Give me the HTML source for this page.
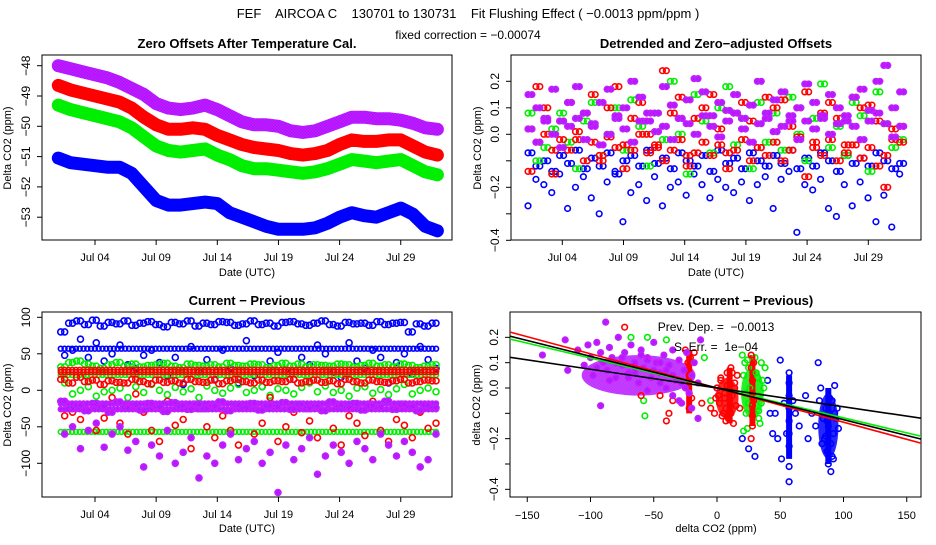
<!DOCTYPE html>
<html><head><meta charset="utf-8"><style>
body{margin:0;background:#fff}
svg text{font-family:"Liberation Sans",sans-serif;fill:#000;white-space:pre}
</style></head><body>
<svg id="c" width="936" height="540" xmlns="http://www.w3.org/2000/svg">
<defs>
<clipPath id="c1"><rect x="42" y="55" width="410" height="185"/></clipPath>
<clipPath id="c2"><rect x="511" y="55" width="410" height="185"/></clipPath>
<clipPath id="c3"><rect x="42" y="312" width="410" height="185"/></clipPath>
<clipPath id="c4"><rect x="510" y="312" width="411" height="185"/></clipPath>
<pattern id="hatch" width="3" height="3" patternUnits="userSpaceOnUse"><rect width="3" height="3" fill="#ff00ff"/><rect width="1.5" height="1.5" fill="#7030ff"/><rect x="1.5" y="1.5" width="1.5" height="1.5" fill="#7030ff"/></pattern>
</defs>
<text x="468" y="18" text-anchor="middle" font-size="13">FEF    AIRCOA C    130701 to 130731    Fit Flushing Effect ( −0.0013 ppm/ppm )</text>
<text x="468" y="39" text-anchor="middle" font-size="12">fixed correction = −0.00074</text>
<g id="g"></g>
</svg>
<script>
// ---------- data ----------
const days = ["Jul 04","Jul 09","Jul 14","Jul 19","Jul 24","Jul 29"];
const dayNums = [4,9,14,19,24,29];
// Panel 1 daily trend (day 1..32)
const p1Purple=[-48.0,-48.1,-48.2,-48.3,-48.4,-48.55,-48.75,-48.95,-49.25,-49.4,-49.45,-49.4,-49.3,-49.45,-49.65,-49.85,-49.95,-49.95,-50.0,-50.15,-50.2,-50.15,-50.0,-49.85,-49.7,-49.7,-49.75,-49.75,-49.8,-49.9,-50.05,-50.1];
const p1Red=[-48.65,-48.8,-48.9,-49.0,-49.1,-49.2,-49.4,-49.7,-49.95,-50.1,-50.1,-50.05,-50.1,-50.3,-50.45,-50.6,-50.7,-50.75,-50.8,-50.9,-50.95,-50.9,-50.8,-50.6,-50.45,-50.5,-50.5,-50.45,-50.45,-50.65,-50.85,-50.95];
const p1Green=[-49.3,-49.45,-49.55,-49.65,-49.75,-49.85,-50.05,-50.35,-50.65,-50.8,-50.85,-50.8,-50.75,-50.95,-51.1,-51.3,-51.4,-51.4,-51.45,-51.5,-51.55,-51.5,-51.4,-51.25,-51.1,-51.15,-51.2,-51.15,-51.1,-51.3,-51.5,-51.6];
const p1Blue=[-51.05,-51.2,-51.25,-51.3,-51.35,-51.35,-51.55,-52.0,-52.45,-52.6,-52.6,-52.55,-52.5,-52.55,-52.85,-53.0,-53.15,-53.3,-53.4,-53.4,-53.4,-53.35,-53.2,-53.0,-52.85,-52.95,-53.0,-52.85,-52.7,-52.9,-53.3,-53.45];
const p1Ticks=[-48,-49,-50,-51,-52,-53];
// Panel 2
const p2PurpleA=[0.15,0.1,0.06,0.17,0.05,0.12,0.18,0.08,0.03,0.12,0.17,0.06,0.1,0.2,0.14,0.05,0.08,0.18,0.11,0.06,0.13,0.21,0.16,0.07,0.12,0.09,0.15,0.06,0.11,0.2,0.08,0.13,0.16,0.05,0.1,0.19,0.12,0.07,0.15,0.1,0.05,0.14,0.17,0.09,0.2,0.26,0.1,0.16];
const p2PurpleB=[0.02,-0.03,0.05,0.0,-0.05,0.03,0.06,-0.02,0.04,-0.04,0.0,0.07,0.02,-0.03,0.05,0.08,0.01,0.03,-0.02,0.06,0.04,0.0,0.07,0.03,-0.01,0.05,0.08,0.02,-0.03,0.04,0.06,0.01,0.03,0.07,-0.02,0.05,0.02,0.06,0.0,0.04,0.07,0.03,-0.02,0.05,0.08,0.04,-0.01,0.03];
const p2RedA=[0.02,0.18,0.1,-0.06,0.05,0.12,-0.02,0.08,0.15,-0.1,0.1,0.18,-0.04,0.06,0.12,0.0,-0.05,0.24,0.08,0.14,-0.08,0.06,0.1,0.15,0.02,-0.07,0.08,0.12,0.05,-0.05,0.14,0.1,0.13,0.03,0.1,0.16,-0.03,0.08,0.12,0.06,-0.04,0.14,0.1,0.11,0.05,-0.2,0.02,0.03];
const p2RedB=[-0.14,-0.03,0.0,-0.15,-0.02,-0.06,0.01,-0.1,-0.03,-0.08,-0.01,-0.05,-0.13,-0.06,0.0,-0.07,-0.04,-0.1,-0.06,-0.02,-0.12,-0.07,-0.03,-0.08,-0.04,-0.13,-0.06,-0.02,-0.1,-0.05,-0.08,-0.03,-0.1,-0.06,-0.01,-0.16,-0.05,-0.08,-0.02,-0.1,-0.07,-0.04,-0.09,-0.05,-0.12,-0.08,-0.02,-0.03];
const p2Green=[0.08,-0.1,-0.05,0.02,0.08,-0.03,-0.13,0.05,0.12,-0.08,0.0,0.1,-0.06,0.13,0.03,-0.12,0.08,-0.02,0.2,0.0,-0.15,0.15,0.05,-0.07,0.1,0.18,-0.04,0.06,-0.13,0.12,-0.03,0.08,-0.06,0.14,0.0,-0.1,0.06,0.19,-0.05,0.03,-0.08,0.12,0.07,-0.14,0.16,0.04,-0.05,-0.02];
const p2BlueA=[-0.07,-0.12,-0.1,-0.14,-0.08,-0.11,-0.06,-0.13,-0.09,-0.12,-0.07,-0.15,-0.1,-0.08,-0.12,-0.06,-0.11,-0.09,-0.13,-0.07,-0.1,-0.12,-0.08,-0.14,-0.06,-0.11,-0.09,-0.13,-0.07,-0.1,-0.12,-0.08,-0.11,-0.06,-0.13,-0.09,-0.12,-0.07,-0.1,-0.14,-0.08,-0.11,-0.09,-0.12,-0.07,-0.1,-0.13,-0.11];
const p2BlueB=[-0.27,-0.17,-0.19,-0.22,-0.15,-0.28,-0.2,-0.16,-0.24,-0.3,-0.18,-0.14,-0.33,-0.22,-0.19,-0.25,-0.16,-0.27,-0.2,-0.18,-0.23,-0.15,-0.19,-0.24,-0.17,-0.2,-0.22,-0.18,-0.25,-0.19,-0.16,-0.28,-0.17,-0.14,-0.37,-0.19,-0.21,-0.17,-0.28,-0.31,-0.19,-0.27,-0.18,-0.24,-0.33,-0.23,-0.35,-0.15];
const p2Ticks=[0.2,0.1,0.0,-0.1,-0.2,-0.3,-0.4];
const p2Labels=["0.2","0.1","0.0","","−0.2","","−0.4"];
// Panel 3
const p3BlueLevels=[57];
const p3GreenLevels=[21,-57];
const p3RedLevels=[28,25];
const p3PurpleLevels=[-18,-26];
const p3BlueHigh=[80,92,95,90,96,88,93,91,95,89,92,94,90,87,93,91,95,88,92,90,94,93,89,91,95,90,92,88,93,94,91,89,92,95,90,88,93,91,92,89,94,90,92,93,80,91,88,92];
const p3BlueMid=[48,55,70,45,65,40,50,62,35,30,48,55,38,20,45,8,60,25,42,15,55,30,10,68,20,5,40,52,28,15,45,35,62,50,25,18,65,40,30,55,45,10,38,50,22,60,42,30];
const p3GreenHigh=[32,38,40,36,33,30,35,38,33,36,32,34,35,37,33,31,36,34,33,35,32,37,34,33,36,35,31,34,37,33,36,32,35,34,33,36,35,32,34,37,33,35,32,36,34,31,33,35];
const p3GreenMid=[10,-5,0,5,-8,-2,0,3,-10,5,-3,8,0,-6,4,-2,2,-10,6,0,-4,3,8,-3,0,5,-7,2,0,-5,4,10,-2,6,-3,0,-8,3,5,-4,1,-6,2,8,-5,0,3,-2];
const p3RedHigh=[15,10,18,12,14,8,13,11,10,15,12,9,14,11,13,10,15,12,11,14,9,13,15,12,10,14,11,13,12,15,10,12,14,11,13,9,15,12,10,14,12,11,13,15,10,12,14,13];
const p3RedLow=[-35,-30,-40,-20,-55,-38,-10,-45,-60,-5,-30,-55,-70,-15,-48,-40,-80,-25,-50,-65,-35,-55,-75,-20,-60,-45,-10,-70,-50,-30,-58,-42,-65,-20,-52,-75,-35,-45,-62,-15,-55,-70,-40,-48,-65,-30,-52,-45];
const p3PurpleCore=[-15,-25,-20,-28,-18,-22,-30,-16,-24,-20,-27,-18,-23,-29,-17,-21,-26,-19,-25,-22,-16,-28,-20,-24,-18,-27,-21,-23,-17,-26,-19,-25,-22,-28,-16,-20,-24,-18,-27,-21,-23,-15,-26,-19,-22,-28,-20,-24];
const p3PurpleLow=[-60,-50,-80,-55,-45,-78,-60,-50,-82,-70,-105,-75,-90,-55,-100,-85,-65,-120,-90,-100,-75,-60,-95,-80,-70,-100,-85,-140,-75,-95,-80,-65,-115,-90,-75,-85,-100,-70,-80,-95,-60,-75,-90,-70,-85,-105,-95,-60];
const p3Ticks=[100,50,0,-50,-100];
// Panel 4
const p4PurpleX=[-138,-120,-118,-110,-105,-102,-100,-98,-95,-92,-92,-90,-88,-87,-85,-83,-80,-78,-75,-73,-70,-68,-65,-62,-60,-58,-55,-52,-50,-48,-45,-42,-40,-38,-35,-32,-30,-28,-26,-24,-22,-20,-18,-15,-13,-85,-75,-65,-55,-45,-35,-25,-60,-40,-30,-95,-80,-70,-50,-45,-35,-28,-20,-15,-65,-55];
const p4PurpleY=[0.13,0.19,0.07,0.15,0.09,0.17,0.12,0.05,0.18,-0.07,0.14,0.1,0.26,0.07,0.16,0.12,0.04,0.2,0.09,0.14,0.06,0.17,0.1,0.02,0.15,0.08,0.12,0.04,0.18,0.1,0.06,0.13,0.0,0.09,0.15,0.03,0.11,-0.06,0.07,0.14,-0.02,0.05,0.1,-0.12,0.19,0.03,0.12,0.08,-0.01,0.1,0.05,0.0,0.13,0.07,-0.05,0.08,0.1,0.04,0.07,0.02,-0.03,0.02,-0.08,0.02,0.06,0.11];
const p4RedX=[-73,-60,-45,-40,-38,-35,-25,-23,-22,-22,-22,-21,-20,-18,-12,-5,0,1,2,3,5,6,7,8,9,10,11,12,13,14,15,4,8,12,10,6,27,27,28,28,28,28,28,29,29,27,-2,-1,16,18,3,7,11,14];
const p4RedY=[0.24,-0.03,-0.03,-0.13,-0.1,-0.05,0.15,0.1,0.05,-0.02,-0.08,0.12,-0.04,0.14,-0.06,-0.08,0.0,-0.03,-0.06,0.03,-0.1,-0.02,-0.08,0.06,-0.12,-0.05,0.08,-0.03,-0.14,0.02,-0.07,-0.11,0.01,0.06,-0.09,-0.04,0.13,0.08,0.03,-0.02,-0.07,-0.11,-0.15,0.1,-0.05,-0.2,-0.1,-0.04,0.05,-0.08,0.04,-0.13,-0.1,0.0];
const p4GreenX=[-68,-58,-57,-55,-40,-10,-5,20,21,22,23,24,25,26,30,31,32,33,34,35,36,38,22,25,33,21,35,37,24,32];
const p4GreenY=[0.2,-0.05,-0.11,0.2,0.19,0.12,-0.05,0.13,0.05,-0.02,-0.1,-0.16,0.08,0.0,0.12,0.06,-0.03,-0.09,-0.14,0.1,0.03,0.08,0.1,-0.06,-0.12,-0.17,-0.06,0.0,0.11,0.04];
const p4BlueX=[0,20,25,30,40,42,44,46,48,50,51,53,55,57,57,57,57,57,57,57,57,57,60,62,65,70,72,75,78,80,81,82,84,85,86,87,88,88,89,90,90,91,92,92,93,94,95,96,83,87,91,89,86,93];
const p4BlueY=[0.0,-0.2,-0.24,-0.27,0.03,-0.1,-0.18,-0.1,-0.2,0.11,-0.28,-0.06,-0.18,0.06,0.02,-0.03,-0.08,-0.13,-0.18,-0.23,-0.31,-0.37,-0.05,-0.1,-0.15,-0.03,-0.2,-0.1,-0.15,0.1,-0.05,0.0,-0.12,-0.2,-0.08,-0.25,-0.15,-0.3,-0.1,-0.22,-0.33,-0.05,-0.18,-0.28,0.01,-0.12,-0.08,-0.16,-0.22,-0.13,-0.27,-0.04,-0.19,-0.1];
const p4ColX=[57,28,-22,10,88];
const p4ColLo=[-0.28,-0.15,-0.1,-0.14,-0.3];
const p4ColHi=[0.05,0.13,0.15,0.08,0.0];
const p4ColColor=["#0000ff","#ff0000","#ff0000","#ff0000","#0000ff"];
// dense cluster regions: centre x, centre y, half-width (ppm), half-height (ppm)
const p4BlobCx=[88,28,8,-62];
const p4BlobCy=[-0.15,-0.02,-0.04,0.05];
const p4BlobRx=[8,9,9,45];
const p4BlobRy=[0.13,0.1,0.08,0.08];
const p4BlobColor=["#0000ff","#00ee00","#ff0000","hatch"];
const p4FitSlope=[-0.00135,-0.00118,-0.00125,-0.00074];
const p4FitIcpt=[0.0,0.0,0.0,0.0];
const p4FitColor=["#ff0000","#00ee00","#000000","#000000"];
const p4XTicks=[-150,-100,-50,0,50,100,150];
const p4YTicks=[0.2,0.1,0.0,-0.1,-0.2,-0.3,-0.4];

// ---------- scales ----------
const X1=d=>95+(d-4)*12.23, Y1=v=>65.7+(-48-v)*30.3;
const X2=d=>562.3+(d-4)*12.24, Y2=v=>134.3-v*265;
const Y3=v=>390.3-v*0.73;
const X4=v=>717+v*1.265, Y4=v=>388-v*253.3;
const tDay=i=>1.2+i*0.646;
const tDayB=i=>1.52+i*0.646;

const NS="http://www.w3.org/2000/svg";
const root=document.getElementById('g');
function mk(tag,at,parent){const e=document.createElementNS(NS,tag);for(const k in at)e.setAttribute(k,at[k]);(parent||root).appendChild(e);return e;}
function txt(x,y,s,size,anchor,rot,bold,parent){const e=mk('text',{x:x,y:y,'font-size':size,'text-anchor':anchor||'middle'},parent);if(rot)e.setAttribute('transform','rotate(-90 '+x+' '+y+')');if(bold)e.setAttribute('font-weight','bold');e.textContent=s;return e;}
const PURP="url(#hatch)";
function pt(g,x,y,col,r){const c=mk('circle',{cx:x,cy:y,r:r||2.8,fill:col===PURP?PURP:'none',stroke:col===PURP?'#c020ff':col,'stroke-width':1.6},g);


return c;}

function frame(x0,y0,w,h,title,name){const g=mk('g',{});


mk('rect',{x:x0,y:y0,width:w,height:h,fill:'none',stroke:'#000','stroke-width':1},g);
const t=txt(x0+w/2,y0-7,title,13,'middle',false,true,g);


return g;}
function yaxis(g,x0,ticks,labels,Y){ticks.forEach((v,i)=>{const y=Y(v);mk('line',{x1:x0,x2:x0-5,y1:y,y2:y,stroke:'#000'},g);const l=labels?labels[i]:String(v).replace('-','−');if(l){const t=txt(x0-12,y,l,12,'middle',true,false,g);

}});}
function xaxisDays(g,y0,X){dayNums.forEach((d,i)=>{const x=X(d);mk('line',{x1:x,x2:x,y1:y0,y2:y0+5,stroke:'#000'},g);const t=txt(x,y0+21,days[i],11,'middle',false,false,g);

});}

// ---------- Panel 1 ----------
let g1=frame(42,55,410,185,'Zero Offsets After Temperature Cal.','panel-zero-offsets');
yaxis(g1,42,p1Ticks,null,Y1);xaxisDays(g1,240,X1);
let a=txt(247,276,'Date (UTC)',11,'middle',false,false,g1);
a=txt(11,148,'Delta CO2 (ppm)',11,'middle',true,false,g1);
const c1=mk('g',{'clip-path':'url(#c1)'},g1);
[[p1Blue,'#0000ff'],[p1Green,'#00ee00'],[p1Red,'#ff0000'],[p1Purple,PURP]].forEach(([arr,col])=>{
 const d=arr.map((v,i)=>(i?'L':'M')+X1(i+1).toFixed(1)+' '+Y1(v).toFixed(1)).join(' ');
 const p=mk('path',{d:d,fill:'none',stroke:col===PURP?PURP:col,'stroke-width':13,'stroke-linejoin':'round','stroke-linecap':'round'},c1);
 
 
});

// ---------- Panel 2 ----------
let g2=frame(511,55,410,185,'Detrended and Zero−adjusted Offsets','panel-detrended');
yaxis(g2,511,p2Ticks,p2Labels,Y2);xaxisDays(g2,240,X2);
a=txt(716,276,'Date (UTC)',11,'middle',false,false,g2);
a=txt(481,148,'Delta CO2 (ppm)',11,'middle',true,false,g2);
const c2=mk('g',{'clip-path':'url(#c2)'},g2);
[[p2BlueB,'#0000ff',tDay],[p2BlueA,'#0000ff',tDayB],[p2BlueA,'#0000ff',tDay],[p2Green,'#00ee00',tDayB],[p2Green,'#00ee00',tDay],[p2RedB,'#ff0000',tDay],[p2RedB,'#ff0000',tDayB],[p2RedA,'#ff0000',tDayB],[p2RedA,'#ff0000',tDay],[p2PurpleB,PURP,tDayB],[p2PurpleA,PURP,tDay],[p2PurpleA,PURP,tDayB],[p2PurpleB,PURP,tDay]].forEach(([arr,col,tf])=>{
 arr.forEach((v,i)=>pt(c2,X2(tf(i)),Y2(v),col));
});

// ---------- Panel 3 ----------
let g3=frame(42,312,410,185,'Current − Previous','panel-current-minus-previous');
yaxis(g3,42,p3Ticks,null,Y3);xaxisDays(g3,497,X1);
a=txt(247,532,'Date (UTC)',11,'middle',false,false,g3);
a=txt(11,405,'Delta CO2 (ppm)',11,'middle',true,false,g3);
const c3=mk('g',{'clip-path':'url(#c3)'},g3);
function levels(arr,col){arr.forEach(v=>{for(let k=0;k<100;k++){pt(c3,X1(1.2+k*0.31),Y3(v),col,2.4);}});}
function scat(arr,col,tf){arr.forEach((v,i)=>pt(c3,X1(tf(i)),Y3(v),col,3));}
scat(p3BlueMid,'#0000ff',tDayB);levels(p3BlueLevels,'#0000ff');scat(p3BlueHigh,'#0000ff',tDay);scat(p3BlueHigh,'#0000ff',tDayB);
levels(p3GreenLevels,'#00ee00');scat(p3GreenHigh,'#00ee00',tDay);scat(p3GreenHigh,'#00ee00',tDayB);scat(p3GreenMid,'#00ee00',tDayB);
levels(p3RedLevels,'#ff0000');scat(p3RedHigh,'#ff0000',tDay);scat(p3RedHigh,'#ff0000',tDayB);scat(p3RedLow,'#ff0000',tDayB);
levels(p3PurpleLevels,PURP);scat(p3PurpleCore,PURP,tDay);scat(p3PurpleCore,PURP,tDayB);scat(p3PurpleLow,PURP,tDayB);

// ---------- Panel 4 ----------
let g4=frame(510,312,411,185,'Offsets vs. (Current − Previous)','panel-offsets-vs-diff');
yaxis(g4,510,p4YTicks,p2Labels,Y4);
p4XTicks.forEach(v=>{const x=X4(v);mk('line',{x1:x,x2:x,y1:497,y2:502,stroke:'#000'},g4);const t=txt(x,519,String(v).replace('-','−'),11,'middle',false,false,g4);

});
a=txt(716,532,'delta CO2 (ppm)',11,'middle',false,false,g4);
a=txt(480,405,'delta CO2 (ppm)',11,'middle',true,false,g4);
const c4=mk('g',{'clip-path':'url(#c4)'},g4);
p4BlobCx.forEach((cx,i)=>{const col=p4BlobColor[i]==='hatch'?PURP:p4BlobColor[i];
const e=mk('ellipse',{cx:X4(cx),cy:Y4(p4BlobCy[i]),rx:p4BlobRx[i]*1.265,ry:p4BlobRy[i]*253.3,fill:col,opacity:0.85},c4);

});
p4ColX.forEach((x,i)=>{const r=mk('line',{x1:X4(x),x2:X4(x),y1:Y4(p4ColHi[i]),y2:Y4(p4ColLo[i]),stroke:p4ColColor[i],'stroke-width':6},c4);

});
p4BlueX.forEach((x,i)=>pt(c4,X4(x),Y4(p4BlueY[i]),'#0000ff'));
p4GreenX.forEach((x,i)=>pt(c4,X4(x),Y4(p4GreenY[i]),'#00ee00'));
p4RedX.forEach((x,i)=>pt(c4,X4(x),Y4(p4RedY[i]),'#ff0000'));
p4PurpleX.forEach((x,i)=>pt(c4,X4(x),Y4(p4PurpleY[i]),PURP));
p4FitSlope.forEach((s,i)=>{const l=mk('line',{x1:X4(-170),y1:Y4(p4FitIcpt[i]+s*-170),x2:X4(170),y2:Y4(p4FitIcpt[i]+s*170),stroke:p4FitColor[i],'stroke-width':1.6},c4);

});
a=txt(716,331,'Prev. Dep. =  −0.0013',12,'middle',false,false,g4);
a=txt(716,351,'S. Err. =  1e−04',12,'middle',false,false,g4);
</script>
</body></html>
